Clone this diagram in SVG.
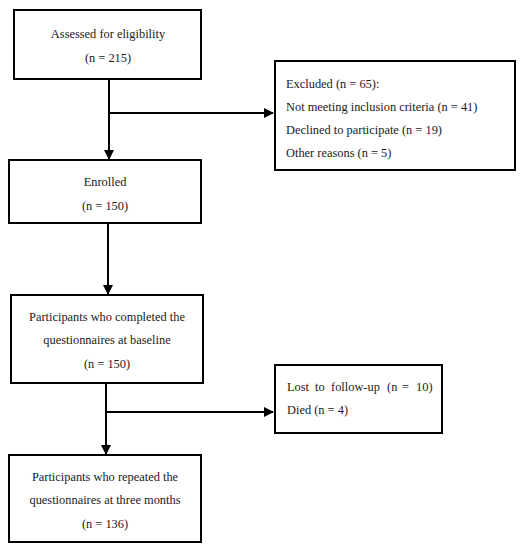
<svg xmlns="http://www.w3.org/2000/svg" width="524" height="550" viewBox="0 0 524 550">
<style>
.box{fill:#fff;stroke:#000;stroke-width:2}
.t{font-family:"Liberation Serif",serif;font-size:12.4px;fill:#1a1a1a}
.c{text-anchor:middle}
.ln{stroke:#000;stroke-width:2;fill:none}
</style>
<defs>
<marker id="ah" markerWidth="10" markerHeight="10" refX="9" refY="5" orient="auto" markerUnits="userSpaceOnUse">
<path d="M0,0 L10,5 L0,10 Z" fill="#000"/>
</marker>
</defs>
<rect width="524" height="550" fill="#fff"/>
<g id="connectors">
<line class="ln" x1="109" y1="79" x2="109" y2="159" marker-end="url(#ah)"/>
<line class="ln" x1="109" y1="113" x2="273" y2="113" marker-end="url(#ah)"/>
<line class="ln" x1="108" y1="223" x2="108" y2="294" marker-end="url(#ah)"/>
<line class="ln" x1="106" y1="383" x2="106" y2="454" marker-end="url(#ah)"/>
<line class="ln" x1="106" y1="412" x2="273" y2="412" marker-end="url(#ah)"/>
</g>
<g id="assessed">
<rect class="box" x="14" y="10" width="187" height="69"/>
<text class="t c" x="108" y="38">Assessed for eligibility</text>
<text class="t c" x="108" y="62">(n = 215)</text>
</g>
<g id="excluded">
<rect class="box" x="275" y="61" width="240" height="109"/>
<text class="t" x="286" y="88">Excluded (n = 65):</text>
<text class="t" x="286" y="111">Not meeting inclusion criteria (n = 41)</text>
<text class="t" x="286" y="134">Declined to participate (n = 19)</text>
<text class="t" x="286" y="157">Other reasons (n = 5)</text>
</g>
<g id="enrolled">
<rect class="box" x="9" y="160" width="192" height="63"/>
<text class="t c" x="105" y="186">Enrolled</text>
<text class="t c" x="105" y="210">(n = 150)</text>
</g>
<g id="baseline">
<rect class="box" x="11" y="295" width="192" height="88"/>
<text class="t c" x="107" y="321">Participants who completed the</text>
<text class="t c" x="107" y="344">questionnaires at baseline</text>
<text class="t c" x="107" y="368">(n = 150)</text>
</g>
<g id="lost">
<rect class="box" x="275" y="365" width="167" height="68"/>
<text class="t" y="391"><tspan x="287">Lost</tspan><tspan x="315">to</tspan><tspan x="331">follow-up</tspan><tspan x="387">(n</tspan><tspan x="402">=</tspan><tspan x="416">10)</tspan></text>
<text class="t" x="287" y="414">Died (n = 4)</text>
</g>
<g id="threemonths">
<rect class="box" x="9" y="455" width="192" height="87"/>
<text class="t c" x="105" y="481">Participants who repeated the</text>
<text class="t c" x="105" y="504">questionnaires at three months</text>
<text class="t c" x="105" y="528">(n = 136)</text>
</g>
</svg>
